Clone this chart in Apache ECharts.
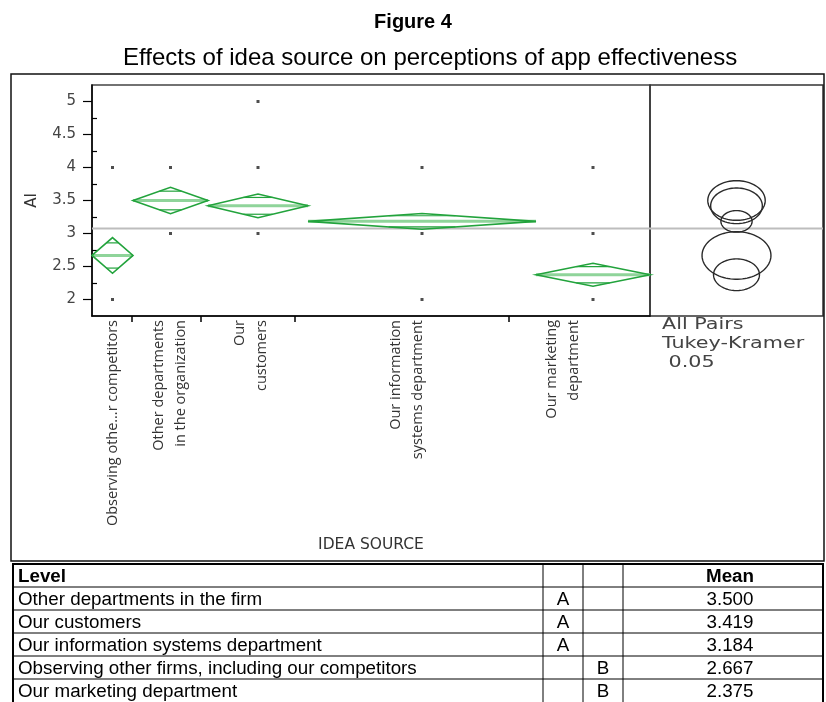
<!DOCTYPE html>
<html><head><meta charset="utf-8">
<script src="https://cdn.jsdelivr.net/npm/echarts@6/dist/echarts.min.js"></script>
<style>html,body{margin:0;padding:0;background:#fff}#c{width:826px;height:702px}</style>
</head><body><div id="c"></div><script>
// ---------- data ----------
const categories = ['Observing othe\u2026r competitors', 'Other departments\nin the organization', 'Our\ncustomers', 'Our information\nsystems department', 'Our marketing\ndepartment'];
const groupWeights = [41, 75, 100, 228, 114];           // relative (sample-size proportional) widths
const groupMeans = [2.667, 3.500, 3.419, 3.184, 2.375];
const ciHalf = [0.27, 0.20, 0.18, 0.12, 0.175];         // 95% CI half-widths (diamond heights)
const pointValues = [[2, 4], [3, 4], [3, 4, 5], [2, 3, 4], [2, 3, 4]];
const circleRadius = [0.36, 0.30, 0.27, 0.163, 0.24];   // Tukey-Kramer comparison circle radii
const grandMean = 3.076;
const yMajorTicks = [2, 2.5, 3, 3.5, 4, 4.5, 5];
const yMinorTicks = [2.25, 2.75, 3.25, 3.75, 4.25, 4.75];
const tableLevels = ['Other departments in the firm', 'Our customers', 'Our information systems department', 'Observing other firms, including our competitors', 'Our marketing department'];
const tableGroupA = ['A', 'A', 'A', '', ''];
const tableGroupB = ['', '', '', 'B', 'B'];
const tableMeans = ['3.500', '3.419', '3.184', '2.667', '2.375'];

// ---------- derived ----------
const starts = []; let acc = 0;
groupWeights.forEach(w => { starts.push(acc); acc += w; });
const xTotal = acc;
const centers = groupWeights.map((w, i) => starts[i] + w / 2);
const sepTicks = [39.7, 109, 203, 416.3];
const labelAnchors = [21, 78, 159, 315, 471];

const GREEN = '#22a33c';
const LIGHTGREEN = '#8fd49a';

const diamondData = groupMeans.map((m, i) => [starts[i], starts[i] + groupWeights[i], m, ciHalf[i]]);
const scatterData = [];
pointValues.forEach((vals, i) => vals.forEach(v => scatterData.push([centers[i], v])));
const circleData = groupMeans.map((m, i) => [m, circleRadius[i]]);

const chart = echarts.init(document.getElementById('c'));

const tableEls = [];
const tx = [13, 543, 583, 623, 823];
const tTop = 564, rh = 23;
tableEls.push({type: 'rect', shape: {x: tx[0], y: tTop, width: tx[4] - tx[0], height: 160}, style: {fill: 'none', stroke: '#000', lineWidth: 2}});
for (let k = 1; k <= 5; k++) {
  tableEls.push({type: 'line', shape: {x1: tx[0], y1: tTop + rh * k, x2: tx[4], y2: tTop + rh * k}, style: {stroke: '#000', lineWidth: 1}});
}
[1, 2, 3].forEach(j => tableEls.push({type: 'line', shape: {x1: tx[j], y1: tTop, x2: tx[j], y2: 710}, style: {stroke: '#000', lineWidth: 1}}));
const tFont = '18.8px "Liberation Sans", Arial, sans-serif';
const tFontB = 'bold 18.8px "Liberation Sans", Arial, sans-serif';
const meanX = 730;
tableEls.push({type: 'text', x: 18, y: tTop + rh / 2 + 1, style: {text: 'Level', font: tFontB, fill: '#000', verticalAlign: 'middle'}});
tableEls.push({type: 'text', x: meanX, y: tTop + rh / 2 + 1, style: {text: 'Mean', font: tFontB, fill: '#000', align: 'center', verticalAlign: 'middle'}});
tableLevels.forEach((lv, i) => {
  const cy = tTop + rh * (i + 1) + rh / 2 + 1;
  tableEls.push({type: 'text', x: 18, y: cy, style: {text: lv, font: tFont, fill: '#000', verticalAlign: 'middle'}});
  tableEls.push({type: 'text', x: (tx[1] + tx[2]) / 2, y: cy, style: {text: tableGroupA[i], font: tFont, fill: '#000', align: 'center', verticalAlign: 'middle'}});
  tableEls.push({type: 'text', x: (tx[2] + tx[3]) / 2, y: cy, style: {text: tableGroupB[i], font: tFont, fill: '#000', align: 'center', verticalAlign: 'middle'}});
  tableEls.push({type: 'text', x: meanX, y: cy, style: {text: tableMeans[i], font: tFont, fill: '#000', align: 'center', verticalAlign: 'middle'}});
});

const jmpFont = '"Open Sans", "Noto Sans", sans-serif';

const option = {
  animation: false,
  backgroundColor: '#fff',
  title: [
    {text: 'Figure 4', left: 'center', top: 7, textStyle: {fontFamily: '"Liberation Sans", Arial', fontWeight: 'bold', fontSize: 20, color: '#000'}},
    {text: 'Effects of idea source on perceptions of app effectiveness', left: 118, top: 41, textStyle: {fontFamily: '"Liberation Sans", Arial', fontWeight: 'normal', fontSize: 24, color: '#000'}}
  ],
  grid: [
    {left: 92, top: 85, width: 558, height: 231, show: true, borderColor: '#444', borderWidth: 1.5, backgroundColor: 'transparent'},
    {left: 650, top: 85, width: 173, height: 231, show: true, borderColor: '#333', borderWidth: 1.5, backgroundColor: 'transparent'}
  ],
  xAxis: [
    {type: 'value', gridIndex: 0, min: 0, max: xTotal, splitLine: {show: false},
     axisLine: {show: true, onZero: false, lineStyle: {color: '#000', width: 1.5}},
     axisTick: {show: true, customValues: sepTicks, length: 6, lineStyle: {color: '#000', width: 1.5}},
     axisLabel: {show: true, customValues: labelAnchors, rotate: 90, margin: 4, fontFamily: jmpFont, fontSize: 14.5, lineHeight: 22, color: '#333',
       formatter: v => { let best = 0; labelAnchors.forEach((a, i) => { if (Math.abs(a - v) < Math.abs(labelAnchors[best] - v)) best = i; }); return categories[best]; }},
     name: 'IDEA SOURCE', nameLocation: 'middle', nameGap: 221, nameTextStyle: {fontFamily: '"DejaVu Sans", sans-serif', fontSize: 15.5, color: '#333'}},
    {type: 'value', gridIndex: 1, min: -1, max: 1, show: false}
  ],
  yAxis: [
    {type: 'value', gridIndex: 0, min: 1.75, max: 5.25, interval: 0.25, splitLine: {show: false},
     axisLine: {show: true, onZero: false, lineStyle: {color: '#000', width: 1.5}},
     axisTick: {show: true, customValues: yMajorTicks, length: 9, lineStyle: {color: '#000', width: 1.2}},
     axisLabel: {show: true, customValues: yMajorTicks, margin: 16, fontFamily: '"DejaVu Sans", sans-serif', fontSize: 15, color: '#444', formatter: v => String(v)},
     name: 'AI', nameLocation: 'middle', nameRotate: 90, nameGap: 52, nameTextStyle: {fontFamily: '"DejaVu Sans", sans-serif', fontSize: 15, color: '#333'}},
    {type: 'value', gridIndex: 0, min: 1.75, max: 5.25, interval: 0.25, splitLine: {show: false},
     axisLine: {show: false}, axisLabel: {show: false},
     axisTick: {show: true, customValues: yMinorTicks, length: 5, lineStyle: {color: '#000', width: 1.2}}},
    {type: 'value', gridIndex: 1, min: 1.75, max: 5.25, interval: 0.25, show: false}
  ],
  series: [
    {type: 'line', xAxisIndex: 0, yAxisIndex: 0, data: [[0, grandMean], [xTotal, grandMean]], symbol: 'none', silent: true, z: 1,
     lineStyle: {color: '#bdbdbd', width: 2}},
    {type: 'line', xAxisIndex: 1, yAxisIndex: 2, data: [[-1, grandMean], [1, grandMean]], symbol: 'none', silent: true, z: 1,
     lineStyle: {color: '#bdbdbd', width: 2}},
    {type: 'custom', xAxisIndex: 0, yAxisIndex: 0, data: diamondData, z: 3, silent: true,
     renderItem: (params, api) => {
       const x0 = api.value(0), x1 = api.value(1), m = api.value(2), c = api.value(3);
       const xc = (x0 + x1) / 2;
       const pL = api.coord([x0, m]), pR = api.coord([x1, m]);
       const pT = api.coord([xc, m + c]), pB = api.coord([xc, m - c]);
       const h = c / Math.SQRT2, f = 1 - h / c;
       const xa = xc - f * (xc - x0), xb = xc + f * (xc - x0);
       const oU1 = api.coord([xa, m + h]), oU2 = api.coord([xb, m + h]);
       const oD1 = api.coord([xa, m - h]), oD2 = api.coord([xb, m - h]);
       return {type: 'group', children: [
         {type: 'line', shape: {x1: pL[0], y1: pL[1], x2: pR[0], y2: pR[1]}, style: {stroke: LIGHTGREEN, lineWidth: 3}},
         {type: 'line', shape: {x1: oU1[0], y1: oU1[1], x2: oU2[0], y2: oU2[1]}, style: {stroke: GREEN, lineWidth: 1.2}},
         {type: 'line', shape: {x1: oD1[0], y1: oD1[1], x2: oD2[0], y2: oD2[1]}, style: {stroke: GREEN, lineWidth: 1.2}},
         {type: 'polygon', shape: {points: [pL, pT, pR, pB]}, style: {fill: 'none', stroke: GREEN, lineWidth: 1.6}}
       ]};
     }},
    {type: 'scatter', xAxisIndex: 0, yAxisIndex: 0, data: scatterData, symbol: 'rect', symbolSize: 3, z: 4, silent: true,
     itemStyle: {color: '#222'}},
    {type: 'custom', xAxisIndex: 1, yAxisIndex: 2, data: circleData, z: 3, silent: true,
     renderItem: (params, api) => {
       const m = api.value(0), r = api.value(1);
       const c = api.coord([0, m]), t = api.coord([0, m + r]);
       const ry = c[1] - t[1], rx = ry * 1.45;
       const pts = [];
       for (let k = 0; k < 90; k++) { const a = k / 90 * Math.PI * 2; pts.push([c[0] + rx * Math.cos(a), c[1] + ry * Math.sin(a)]); }
       return {type: 'polygon', shape: {points: pts}, style: {fill: 'none', stroke: '#2a2a2a', lineWidth: 1.4}};
     }}
  ],
  graphic: [
    {type: 'rect', shape: {x: 11, y: 74, width: 813, height: 487}, style: {fill: 'none', stroke: '#111', lineWidth: 1.5}, z: 0},
    {type: 'text', x: 662, y: 318, scaleX: 1.38, style: {text: 'All Pairs', font: '15px "DejaVu Sans", sans-serif', fill: '#444'}},
    {type: 'text', x: 662, y: 337, scaleX: 1.38, style: {text: 'Tukey-Kramer', font: '15px "DejaVu Sans", sans-serif', fill: '#444'}},
    {type: 'text', x: 662, y: 356, scaleX: 1.38, style: {text: ' 0.05', font: '15px "DejaVu Sans", sans-serif', fill: '#444'}},
    ...tableEls
  ]
};
chart.setOption(option);
</script></body></html>
